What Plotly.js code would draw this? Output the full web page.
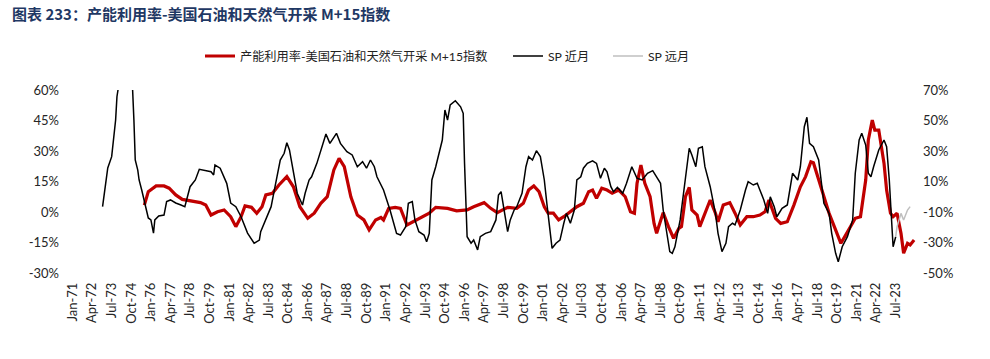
<!DOCTYPE html>
<html>
<head>
<meta charset="utf-8">
<script src="https://cdn.plot.ly/plotly-3.0.1.min.js"></script>
<style>
  html, body { margin: 0; padding: 0; background: #ffffff; }
  #chart { width: 990px; height: 359px; }
</style>
</head>
<body>
<div id="chart"></div>
<script>
// ---- data ----
const titleText = "图表 233：产能利用率-美国石油和天然气开采 M+15指数";
const seriesNames = ["产能利用率-美国石油和天然气开采 M+15指数", "SP 近月", "SP 远月"];

// Capacity utilisation, M+15 (left axis, %)
const redDates = ["1975-08","1975-11","1976-05","1976-11","1977-03","1977-08","1978-01","1978-07","1979-03","1979-07",
  "1979-11","1980-04","1980-09","1981-02","1981-06","1981-10","1982-01","1982-06","1982-10","1983-02",
  "1983-05","1983-10","1984-03","1984-09","1985-02","1985-07","1986-01","1986-06","1986-11","1987-04",
  "1987-09","1988-01","1988-05","1988-10","1989-03","1989-08","1989-12","1990-05","1990-09","1990-11",
  "1991-03","1991-08","1991-12","1992-05","1992-10","1993-03","1993-10","1994-03","1994-12","1995-07",
  "1996-03","1996-08","1997-04","1997-09","1998-02","1998-10","1999-05","1999-10","2000-02","2000-06",
  "2000-10","2001-02","2001-05","2001-09","2002-01","2002-05","2002-10","2003-03","2003-08","2003-12",
  "2004-03","2004-06","2004-10","2005-02","2005-06","2005-11","2006-04","2006-08","2006-11","2007-01",
  "2007-04","2007-07","2007-11","2008-02","2008-04","2008-07","2008-09","2009-01","2009-05","2009-09",
  "2009-11","2010-02","2010-05","2010-07","2010-11","2011-01","2011-05","2011-09","2012-01","2012-03",
  "2012-07","2012-12","2013-04","2013-08","2014-01","2014-06","2014-11","2015-03","2015-06","2015-08",
  "2015-11","2016-03","2016-08","2017-01","2017-06","2017-10","2018-02","2018-04","2018-08","2018-12",
  "2019-04","2019-08","2020-01","2020-04","2020-08","2020-12","2021-04","2021-08","2021-10","2022-01",
  "2022-03","2022-06","2022-10","2022-12","2023-03","2023-05","2023-08","2023-11","2024-01","2024-04",
  "2024-06","2024-09"];
const redValues = [3.4,10,12.8,12.8,11.7,8.4,6.2,5.6,4.6,3.4,
  -1.5,0.1,1,-2.3,-7.2,-2.3,3,2.3,-0.6,2.6,
  8.4,9.2,13.3,17.4,12.4,2.6,-3.1,-0.6,4.3,7.5,
  20.7,26.4,22.3,7.5,-1.5,-3.9,-8.8,-3.9,-2.7,-3.9,
  1.8,2.3,1.8,-6.4,-4.8,-3.1,-0.6,2.3,1.8,0.6,
  1,2.6,4.6,1.8,-0.3,2.3,1.8,4.3,10.8,12.8,
  10,2.6,-0.6,-0.6,-3.9,-2.3,0.1,2.6,4.3,10,
  10.8,6.7,11.7,10.8,9.2,10.8,7.5,0.1,-0.6,14.1,
  23.1,14.1,7.5,-5.6,-10.5,-3.9,-0.3,-7.2,-12.9,-8,
  -7.2,7.5,12.1,1,-1.5,-7.2,-0.6,5.9,-0.6,-4.8,
  3.4,4.6,-0.6,-6.4,-2.3,-2.3,-1.5,0.1,5.9,1.8,
  -3.1,-5.6,-4.8,3.4,12.4,17.4,24.7,24.2,15.7,7.5,
  -0.6,-7.2,-15.4,-12.1,-7.2,-3.1,-2.3,15.7,35.4,45.2,
  40.3,40.3,24,10.8,-0.6,-2.3,-0.6,-10.5,-20.3,-15.4,
  -16.2,-13.8];

// SP near month (right axis, %)
const nearDates = ["1972-12","1973-02","1973-04","1973-07","1973-09","1973-10","1973-11","1973-12","1974-01","1974-05",
  "1974-09","1974-11","1974-12","1975-01","1975-03","1975-04","1975-06","1975-09","1975-11","1976-01",
  "1976-03","1976-04","1976-07","1976-11","1977-01","1977-04","1977-08","1977-12","1978-03","1978-07",
  "1978-11","1979-02","1979-07","1979-11","1980-01","1980-02","1980-06","1980-09","1980-11","1981-02",
  "1981-06","1981-10","1982-03","1982-08","1982-12","1983-01","1983-05","1983-09","1983-12","1984-04",
  "1984-07","1984-09","1984-11","1985-02","1985-05","1985-09","1985-11","1986-02","1986-04","1986-08",
  "1986-12","1987-03","1987-06","1987-11","1988-02","1988-07","1988-11","1989-03","1989-07","1989-10",
  "1990-01","1990-04","1990-06","1990-11","1991-04","1991-09","1991-12","1992-04","1992-06","1992-09",
  "1992-11","1993-02","1993-06","1993-08","1993-10","1993-12","1994-03","1994-05","1994-08","1994-10",
  "1994-12","1995-02","1995-06","1995-10","1995-12","1996-01","1996-03","1996-06","1996-08","1996-11",
  "1997-01","1997-05","1997-09","1998-01","1998-03","1998-05","1998-07","1998-10","1998-12","1999-03",
  "1999-05","1999-09","1999-12","2000-02","2000-05","2000-08","2000-11","2001-02","2001-04","2001-08",
  "2001-11","2002-02","2002-05","2002-07","2002-10","2003-01","2003-03","2003-06","2003-08","2003-11",
  "2004-03","2004-06","2004-09","2004-12","2005-02","2005-05","2005-07","2005-10","2006-02","2006-05",
  "2006-09","2007-01","2007-05","2007-09","2008-01","2008-04","2008-07","2008-09","2008-12","2009-02",
  "2009-04","2009-06","2009-10","2010-02","2010-05","2010-07","2010-10","2010-12","2011-03","2011-05",
  "2011-09","2012-01","2012-03","2012-06","2012-09","2012-11","2013-02","2013-04","2013-08","2013-12",
  "2014-02","2014-06","2014-09","2014-11","2015-02","2015-05","2015-07","2015-10","2015-12","2016-04",
  "2016-08","2016-12","2017-04","2017-06","2017-09","2017-11","2018-01","2018-04","2018-08","2018-12",
  "2019-04","2019-06","2019-09","2019-11","2020-02","2020-06","2020-10","2020-12","2021-03","2021-05",
  "2021-08","2021-10","2021-12","2022-02","2022-06","2022-10","2022-12","2023-02","2023-04","2023-05",
  "2023-07"];
const nearValues = [-6.5,6.6,18.9,26.3,41.8,50.3,65.6,71.1,85,120,
  90,70,50.3,24.1,17.5,11,4.4,-6.5,-13.9,-15.2,
  -23.8,-15.2,-12.6,-12,-3.2,-2.1,-4.1,-5.4,-6.5,6.6,
  11,18,17.1,16.4,14.3,20.8,18.7,13.1,8.8,-4.1,
  -6.5,-13.1,-23.8,-30.5,-28.4,-22.9,-15.2,-6.5,6.6,24.1,
  28.5,35.4,30.7,15.4,2.3,-5.4,2.3,11,13.1,21.9,
  32.8,41.1,35,41.6,35,29.5,27.4,19.7,23,18.7,
  24.1,19.7,13.1,4.4,-8.7,-24,-25.1,-19.6,-4.3,-3.2,
  -15.2,-22.9,-25.1,-29.5,-24,11,19.7,26.3,37.2,56.9,
  50.3,60.2,63,59,54.7,21.9,-26.2,-30.5,-28.4,-34.9,
  -26.2,-24,-22.9,-15.2,1.1,3.3,-6.5,-22.9,-15.2,-8.7,
  -6.5,2.3,19.7,26.3,24.1,30.2,26.3,11,-4.3,-33.8,
  -30.5,-28.4,-17.4,-10.9,-17.4,-8.7,11,13.1,18.7,21.9,
  23.6,21.9,12.1,18.7,16.4,6.6,3.3,6.2,2.3,8.8,
  19.7,12.1,11,15.4,17.1,13.1,8.8,-8.7,-24,-36,
  -37.1,-32.8,-15.2,11,31.8,27.4,19.7,31.8,32.8,19.7,
  6.6,-10.9,-24,-36,-30.5,-19.6,-17.4,-18.5,-8.7,4.4,
  9.9,7.7,8.8,4.4,-2.1,-10.9,0,-6.5,-13.1,-7.6,
  -5.4,15.4,11,19.7,45.9,52.1,35,32.8,24.1,-4.3,
  -10.9,-24,-37.1,-42.6,-32.8,-26.2,-15.2,15.4,37.2,41.6,
  33.9,15.4,13.1,19.7,30.7,37.2,32.8,11,-15.2,-32.8,
  -26.2];

// SP far month (right axis, %)
const farDates = ["2023-07","2023-08","2023-11","2024-01","2024-04","2024-06"];
const farValues = [-26.2,-19.6,-10.9,-15.2,-8.7,-6.5];

const leftTicks = [-30,-15,0,15,30,45,60];
const rightTicks = [-50,-30,-10,10,30,50,70];
const firstTick = "1971-01-01";
const lastTick = "2023-07-01";

// ---- chart ----
const latin = "Lato, 'Noto Sans CJK SC', sans-serif";
const cjk = "'Noto Sans CJK SC', sans-serif";

// tick positions every 15 months, Jan-71 .. Jul-23
const xTicks = [];
for (let m = 0; ; m += 15) {
  const d = new Date(Date.UTC(1971, m, 1));
  const s = d.toISOString().slice(0, 10);
  if (s > lastTick) break;
  xTicks.push(s);
}

const traces = [
  { x: redDates, y: redValues, name: seriesNames[0], type: "scatter", mode: "lines",
    yaxis: "y", legend: "legend", line: { color: "#c00000", width: 3.2 } },
  { x: nearDates, y: nearValues, name: seriesNames[1], type: "scatter", mode: "lines",
    yaxis: "y2", legend: "legend2", line: { color: "#000000", width: 1.5 } },
  { x: farDates, y: farValues, name: seriesNames[2], type: "scatter", mode: "lines",
    yaxis: "y2", legend: "legend3", line: { color: "#bfbfbf", width: 1.5 } }
];

const legendBase = (px) => ({
  orientation: "h", x: (px - 72) / 846, xanchor: "left",
  y: 1 + (90 - 56) / 183, yanchor: "middle",
  font: { family: latin, size: 12.2, color: "#222222" }, bgcolor: "rgba(0,0,0,0)"
});

const layout = {
  width: 990, height: 359,
  margin: { l: 72, r: 72, t: 90, b: 86, pad: 0 },
  paper_bgcolor: "#ffffff", plot_bgcolor: "#ffffff",
  showlegend: true,
  title: { text: "<b>" + titleText + "</b>", xref: "container", yref: "container",
    x: 12 / 990, xanchor: "left", y: 1 - 15 / 359, yanchor: "middle",
    font: { family: cjk, size: 15, color: "#1f3864" } },
  legend: legendBase(200),
  legend2: legendBase(508),
  legend3: legendBase(608),
  xaxis: { type: "date", range: ["1970-12-20", "2024-12-01"],
    tickmode: "array", tickvals: xTicks,
    tickformat: "%b-%y", tickangle: -90, showgrid: false, zeroline: false, showline: false,
    ticks: "", ticklabelstandoff: 6,
    tickfont: { family: latin, size: 13, color: "#262626" } },
  yaxis: { range: [-30, 60], tickvals: leftTicks, ticktext: leftTicks.map(v => v + "%"),
    showgrid: false, zeroline: false, showline: false, ticks: "", ticklabelstandoff: 12,
    tickfont: { family: latin, size: 13, color: "#262626" } },
  yaxis2: { range: [-50, 70], tickvals: rightTicks, ticktext: rightTicks.map(v => v + "%"),
    overlaying: "y", side: "right", showgrid: false, zeroline: false, showline: false,
    ticks: "", ticklabelstandoff: 4,
    tickfont: { family: latin, size: 13, color: "#262626" } }
};

Plotly.newPlot("chart", traces, layout, { staticPlot: true, displayModeBar: false });
</script>
</body>
</html>
